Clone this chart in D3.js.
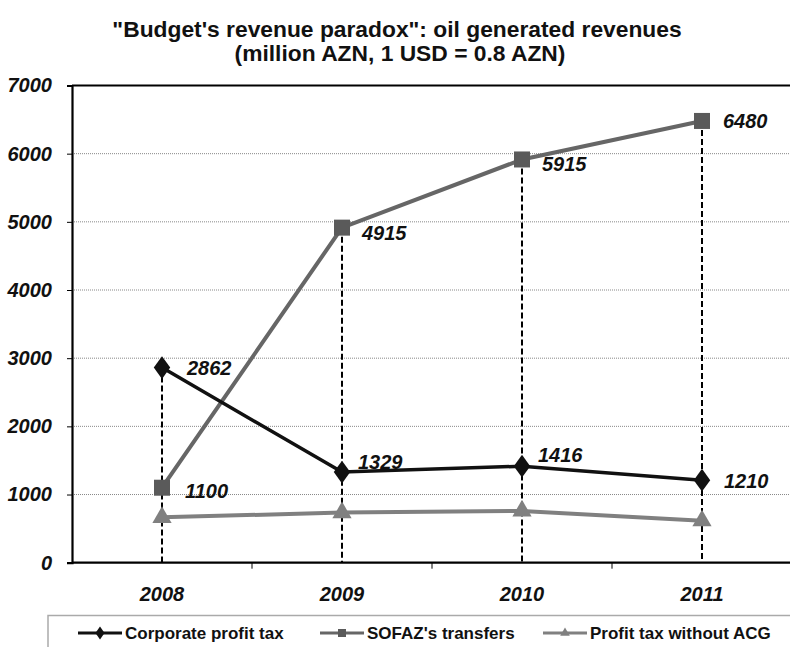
<!DOCTYPE html>
<html><head><meta charset="utf-8">
<script src="https://cdn.jsdelivr.net/npm/d3@7"></script>
<style>body{margin:0;background:#fff}svg{display:block;font-family:"Liberation Sans",Arial,sans-serif}</style>
</head><body><svg id="c" width="790" height="647"></svg>
<script>
const years = ["2008","2009","2010","2011"];
const corporateTax = [2862, 1329, 1416, 1210];
const sofazTransfers = [1100, 4915, 5915, 6480];
const profitTaxNoACG = [665, 735, 760, 615];
const yTicks = [0,1000,2000,3000,4000,5000,6000,7000];
const seriesNames = ["Corporate profit tax","SOFAZ's transfers","Profit tax without ACG"];

const svg = d3.select("#c");
const pLeft = 72, pRight = 792, pTop = 85.5, pBottom = 562.7;
const x = d3.scaleBand().domain(years).range([pLeft, pRight]).padding(0);
const y = d3.scaleLinear().domain([0,7000]).range([pBottom, pTop]);
const cx = d => x(d) + x.bandwidth()/2;

// title
svg.append("text").attr("x",397).attr("y",37).attr("text-anchor","middle")
  .attr("font-weight","bold").attr("font-size",22.8).attr("fill","#111").text("\"Budget's revenue paradox\": oil generated revenues");
svg.append("text").attr("x",400).attr("y",61).attr("text-anchor","middle")
  .attr("font-weight","bold").attr("font-size",22.8).attr("fill","#111").text("(million AZN, 1 USD = 0.8 AZN)");

// gridlines
svg.append("g").selectAll("line").data(yTicks.filter(v=>v>0 && v<7000)).join("line")
  .attr("x1",pLeft).attr("x2",790).attr("y1",d=>y(d)).attr("y2",d=>y(d))
  .attr("stroke","#888").attr("stroke-width",1).attr("stroke-dasharray","1,1");
// top border
svg.append("line").attr("x1",pLeft).attr("x2",790).attr("y1",pTop).attr("y2",pTop).attr("stroke","#000").attr("stroke-width",2);

// y axis
const ya = svg.append("g").attr("transform",`translate(${pLeft},0)`)
  .call(d3.axisLeft(y).tickValues(yTicks).tickSize(5).tickPadding(15).tickFormat(d3.format("d")));
ya.select(".domain").attr("stroke","#000").attr("stroke-width",2.2);
ya.selectAll(".tick line").attr("stroke","#000").attr("stroke-width",1);
ya.selectAll("text").attr("font-size",20).attr("font-weight","bold").attr("font-style","italic")
  .attr("fill","#111").attr("font-family","Liberation Sans, Arial, sans-serif");

// x axis
const xa = svg.append("g").attr("transform",`translate(0,${pBottom})`)
  .call(d3.axisBottom(x).tickSize(0).tickPadding(24));
xa.select(".domain").remove();
svg.append("line").attr("x1",pLeft).attr("x2",790).attr("y1",pBottom).attr("y2",pBottom).attr("stroke","#000").attr("stroke-width",2.2);
svg.append("g").selectAll("line").data(years.slice(1)).join("line")
  .attr("x1",d=>x(d)).attr("x2",d=>x(d)).attr("y1",pBottom).attr("y2",pBottom+6).attr("stroke","#000").attr("stroke-width",1);
xa.selectAll("text").attr("font-size",20).attr("font-weight","bold").attr("font-style","italic")
  .attr("fill","#111").attr("font-family","Liberation Sans, Arial, sans-serif");

// drop lines
svg.append("g").selectAll("line").data(years).join("line")
  .attr("x1",d=>cx(d)).attr("x2",d=>cx(d))
  .attr("y1",(d,i)=>y(Math.max(sofazTransfers[i],corporateTax[i]))).attr("y2",pBottom)
  .attr("stroke","#000").attr("stroke-width",2).attr("stroke-dasharray","6,3");

const line = d3.line().x((d,i)=>cx(years[i])).y(d=>y(d));

// series 3 (triangle)
svg.append("path").datum(profitTaxNoACG).attr("d",line).attr("fill","none").attr("stroke","#808080").attr("stroke-width",4);
const tri = d3.symbol().type(d3.symbolTriangle).size(160);
svg.append("g").selectAll("path").data(profitTaxNoACG).join("path")
  .attr("d",tri).attr("transform",(d,i)=>`translate(${cx(years[i])},${y(d)})`).attr("fill","#808080");

// series 2 (square)
svg.append("path").datum(sofazTransfers).attr("d",line).attr("fill","none").attr("stroke","#666").attr("stroke-width",4);
svg.append("g").selectAll("rect").data(sofazTransfers).join("rect")
  .attr("x",(d,i)=>cx(years[i])-8).attr("y",d=>y(d)-8).attr("width",16).attr("height",16).attr("fill","#5a5a5a");

// series 1 (diamond)
svg.append("path").datum(corporateTax).attr("d",line).attr("fill","none").attr("stroke","#111").attr("stroke-width",3.5);
const dia = d3.symbol().type(d3.symbolDiamond).size(150);
svg.append("g").selectAll("path").data(corporateTax).join("path")
  .attr("d",dia).attr("transform",(d,i)=>`translate(${cx(years[i])},${y(d)}) scale(1.25,1)`).attr("fill","#111");

// labels
const lblStyle = s => s.attr("font-size",20).attr("font-weight","bold").attr("font-style","italic").attr("fill","#111");
const corpOff = [[25,7],[16,-3],[16,-4],[22,8]];
svg.append("g").selectAll("text").data(corporateTax).join("text")
  .attr("x",(d,i)=>cx(years[i])+corpOff[i][0]).attr("y",(d,i)=>y(d)+corpOff[i][1]).text(d=>d).call(lblStyle);
const sofOff = [[23,10],[20,12],[20,12],[21,7]];
svg.append("g").selectAll("text").data(sofazTransfers).join("text")
  .attr("x",(d,i)=>cx(years[i])+sofOff[i][0]).attr("y",(d,i)=>y(d)+sofOff[i][1]).text(d=>d).call(lblStyle);

// legend
svg.append("rect").attr("x",48).attr("y",615.5).attr("width",760).attr("height",40)
  .attr("fill","#fff").attr("stroke","#aaa").attr("stroke-width",1.5);
const lg = svg.append("g");
const items = [
  {x:78, name:seriesNames[0], color:"#111", sym:"d"},
  {x:320, name:seriesNames[1], color:"#666", sym:"s"},
  {x:543, name:seriesNames[2], color:"#808080", sym:"t"}
];
items.forEach(it=>{
  const ly = 633;
  lg.append("line").attr("x1",it.x).attr("x2",it.x+44).attr("y1",ly).attr("y2",ly).attr("stroke",it.color).attr("stroke-width",3);
  if(it.sym==="d") lg.append("path").attr("d",d3.symbol().type(d3.symbolDiamond).size(50)()).attr("transform",`translate(${it.x+22},${ly}) scale(1.2,1)`).attr("fill",it.color);
  if(it.sym==="s") lg.append("rect").attr("x",it.x+18).attr("y",ly-4).attr("width",8).attr("height",8).attr("fill","#5a5a5a");
  if(it.sym==="t") lg.append("path").attr("d",d3.symbol().type(d3.symbolTriangle).size(40)()).attr("transform",`translate(${it.x+22},${ly})`).attr("fill",it.color);
  lg.append("text").attr("x",it.x+47).attr("y",ly+6).attr("font-size",17).attr("font-weight","bold").attr("fill","#111").text(it.name);
});
</script></body></html>
